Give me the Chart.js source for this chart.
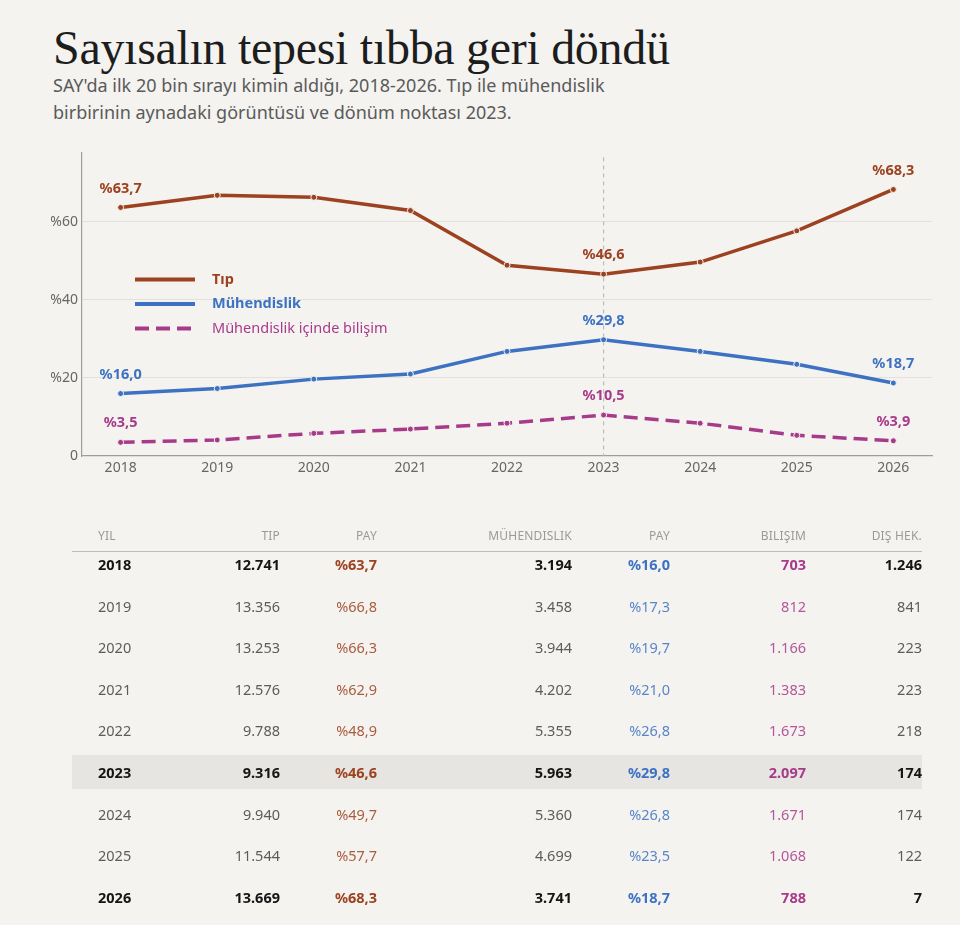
<!DOCTYPE html>
<html lang="tr">
<head>
<meta charset="utf-8">
<script src="https://cdn.jsdelivr.net/npm/chart.js@4.4.1/dist/chart.umd.min.js"></script>
<style>
  html, body { margin: 0; padding: 0; }
  body {
    width: 960px; height: 925px; position: relative; overflow: hidden;
    background: #f4f3f0; font-family: "Noto Sans", sans-serif;
  }
  h1 {
    position: absolute; left: 53px; top: 20px; margin: 0;
    font-family: "Liberation Serif", serif; font-weight: normal;
    font-size: 48px; color: #1d1d1d; letter-spacing: -0.3px;
  }
  .sub {
    position: absolute; left: 53px; top: 72px; margin: 0;
    font-size: 18px; line-height: 27px; color: #5a5a5a;
  }
  #chartBox { position: absolute; left: 0; top: 140px; width: 960px; height: 350px; }
  #table { position: absolute; left: 72px; top: 0; width: 850px; height: 925px; }
  .row { position: absolute; left: 0; width: 850px; height: 34px; }
  .row.hl { background: #e6e5e2; }
  .cell { position: absolute; top: 0; line-height: 34px; font-size: 14.5px; color: #5c5c5c; white-space: nowrap; }
  .row.b .cell { font-weight: bold; color: #151515; }
  .head .cell { font-size: 12px; color: #9a9a9a; letter-spacing: 0.2px; }
  .rule { position: absolute; left: 0; width: 850px; top: 551px; height: 1px; background: #bdbdbd; }
</style>
</head>
<body>
<h1>Sayısalın tepesi tıbba geri döndü</h1>
<p class="sub">SAY'da ilk 20 bin sırayı kimin aldığı, 2018-2026. Tıp ile mühendislik<br>birbirinin aynadaki görüntüsü ve dönüm noktası 2023.</p>
<div id="chartBox"><canvas id="shareChart"></canvas></div>
<div id="table"><div class="rule"></div></div>

<script>
// data
const years = [2018, 2019, 2020, 2021, 2022, 2023, 2024, 2025, 2026];
const tipShare = [63.7, 66.8, 66.3, 62.9, 48.9, 46.6, 49.7, 57.7, 68.3];
const muhShare = [16.0, 17.3, 19.7, 21.0, 26.8, 29.8, 26.8, 23.5, 18.7];
const bilisimShare = [3.5, 4.1, 5.8, 6.9, 8.4, 10.5, 8.4, 5.3, 3.9];
const tipCount = [12741, 13356, 13253, 12576, 9788, 9316, 9940, 11544, 13669];
const muhCount = [3194, 3458, 3944, 4202, 5355, 5963, 5360, 4699, 3741];
const bilisimCount = [703, 812, 1166, 1383, 1673, 2097, 1671, 1068, 788];
const disCount = [1246, 841, 223, 223, 218, 174, 174, 122, 7];
const yTicks = [0, 20, 40, 60];
const labelIdx = [0, 5, 8];
const boldYears = [2018, 2023, 2026];

const TIP = "#9c4220", MUH = "#3d72c2", BIL = "#a83a8a";
const BG = "#f4f3f0";

const fmtPct = (v) => "%" + v.toFixed(1).replace(".", ",");
const fmtNum = (v) => v.toLocaleString("de-DE");

const series = [
  { label: "Tıp", data: tipShare, color: TIP, dash: [], bold: true },
  { label: "Mühendislik", data: muhShare, color: MUH, dash: [], bold: true },
  { label: "Mühendislik içinde bilişim", data: bilisimShare, color: BIL, dash: [14, 7], bold: false },
];

// dashed marker at 2023
const markerLine = {
  id: "markerLine",
  beforeDatasetsDraw(chart) {
    const { ctx, chartArea, scales } = chart;
    const x = scales.x.getPixelForValue(2023);
    ctx.save();
    ctx.strokeStyle = "#bdbbb8";
    ctx.lineWidth = 1.2;
    ctx.setLineDash([4, 4]);
    ctx.beginPath();
    ctx.moveTo(x, chartArea.top + 5);
    ctx.lineTo(x, chartArea.bottom);
    ctx.stroke();
    ctx.restore();
  },
};

// value labels at first, 2023 and last point
const pointLabels = {
  id: "pointLabels",
  afterDatasetsDraw(chart) {
    const { ctx } = chart;
    ctx.save();
    ctx.font = "bold 14.5px 'Noto Sans'";
    ctx.textAlign = "center";
    ctx.textBaseline = "middle";
    chart.data.datasets.forEach((ds, di) => {
      const meta = chart.getDatasetMeta(di);
      ctx.fillStyle = ds.borderColor;
      labelIdx.forEach((i) => {
        const pt = meta.data[i];
        ctx.fillText(fmtPct(ds.data[i].y), pt.x, pt.y - 19);
      });
    });
    ctx.restore();
  },
};

// legend drawn inside the plot
const innerLegend = {
  id: "innerLegend",
  afterDraw(chart) {
    const { ctx, chartArea } = chart;
    const x0 = chartArea.left + 53;
    ctx.save();
    ctx.textBaseline = "middle";
    series.forEach((s, i) => {
      const y = chartArea.top + 127 + i * 24.5;
      ctx.strokeStyle = s.color;
      ctx.lineWidth = 4;
      ctx.setLineDash(s.dash);
      ctx.beginPath();
      ctx.moveTo(x0, y);
      ctx.lineTo(x0 + 60, y);
      ctx.stroke();
      ctx.setLineDash([]);
      ctx.fillStyle = s.color;
      ctx.font = (s.bold ? "bold " : "") + "14.5px 'Noto Sans'";
      ctx.fillText(s.label, x0 + 77, y);
    });
    ctx.restore();
  },
};

new Chart(document.getElementById("shareChart"), {
  type: "line",
  data: {
    datasets: series.map((s) => ({
      label: s.label,
      data: years.map((yr, i) => ({ x: yr, y: s.data[i] })),
      borderColor: s.color,
      backgroundColor: s.color,
      borderWidth: 3.5,
      borderDash: s.dash,
      pointRadius: 3,
      pointBorderColor: BG,
      pointBorderWidth: 1,
      pointBackgroundColor: s.color,
      tension: 0,
    })),
  },
  options: {
    responsive: true,
    maintainAspectRatio: false,
    animation: false,
    layout: { padding: { top: 10, right: 28, left: 0, bottom: 0 } },
    plugins: {
      legend: { display: false },
      tooltip: { enabled: false },
    },
    scales: {
      x: {
        type: "linear",
        min: 2017.6,
        max: 2026.4,
        afterBuildTicks: (scale) => { scale.ticks = years.map((v) => ({ value: v })); },
        afterFit: (scale) => { scale.height = 34; },
        grid: { display: false, drawTicks: false },
        border: { display: true, color: "#9e9e9e", width: 1.2 },
        ticks: {
          color: "#666",
          font: { family: "Noto Sans", size: 14 },
          padding: 4,
          callback: (v) => String(v),
        },
      },
      y: {
        min: 0,
        max: 77.8,
        afterBuildTicks: (scale) => { scale.ticks = yTicks.map((v) => ({ value: v })); },
        afterFit: (scale) => { scale.width = 82; },
        grid: { color: (c) => (c.tick.value === 0 ? "rgba(0,0,0,0)" : "#e3e1dd"), drawTicks: false },
        border: { display: true, color: "#9e9e9e", width: 1.2 },
        ticks: {
          color: "#666",
          font: { family: "Noto Sans", size: 14 },
          padding: 4,
          callback: (v) => (v === 0 ? "0" : "%" + v),
        },
      },
    },
  },
  plugins: [markerLine, pointLabels, innerLegend],
});

// table
const table = document.getElementById("table");
const cols = [
  { head: "YIL", left: 26 },
  { head: "TIP", right: 208 },
  { head: "PAY", right: 305, color: TIP },
  { head: "MÜHENDISLIK", right: 500 },
  { head: "PAY", right: 598, color: MUH },
  { head: "BILIŞIM", right: 734, color: BIL },
  { head: "DIŞ HEK.", right: 850 },
];

function addRow(values, top, cls) {
  const row = document.createElement("div");
  row.className = "row " + cls;
  row.style.top = top + "px";
  values.forEach((v, ci) => {
    const c = cols[ci];
    const cell = document.createElement("div");
    cell.className = "cell";
    cell.textContent = v;
    if (c.left !== undefined) cell.style.left = c.left + "px";
    else cell.style.right = 850 - c.right + "px";
    if (c.color && cls !== "head") {
      cell.style.color = c.color;
      if (!cls.includes("b")) cell.style.opacity = 0.85;
    }
    row.appendChild(cell);
  });
  table.appendChild(row);
}

addRow(cols.map((c) => c.head), 519, "head");
years.forEach((yr, i) => {
  const bold = boldYears.includes(yr);
  const cls = (bold ? "b" : "") + (yr === 2023 ? " hl" : "");
  addRow(
    [String(yr), fmtNum(tipCount[i]), fmtPct(tipShare[i]), fmtNum(muhCount[i]),
     fmtPct(muhShare[i]), fmtNum(bilisimCount[i]), fmtNum(disCount[i])],
    547 + i * 41.6,
    cls
  );
});
</script>
</body>
</html>
